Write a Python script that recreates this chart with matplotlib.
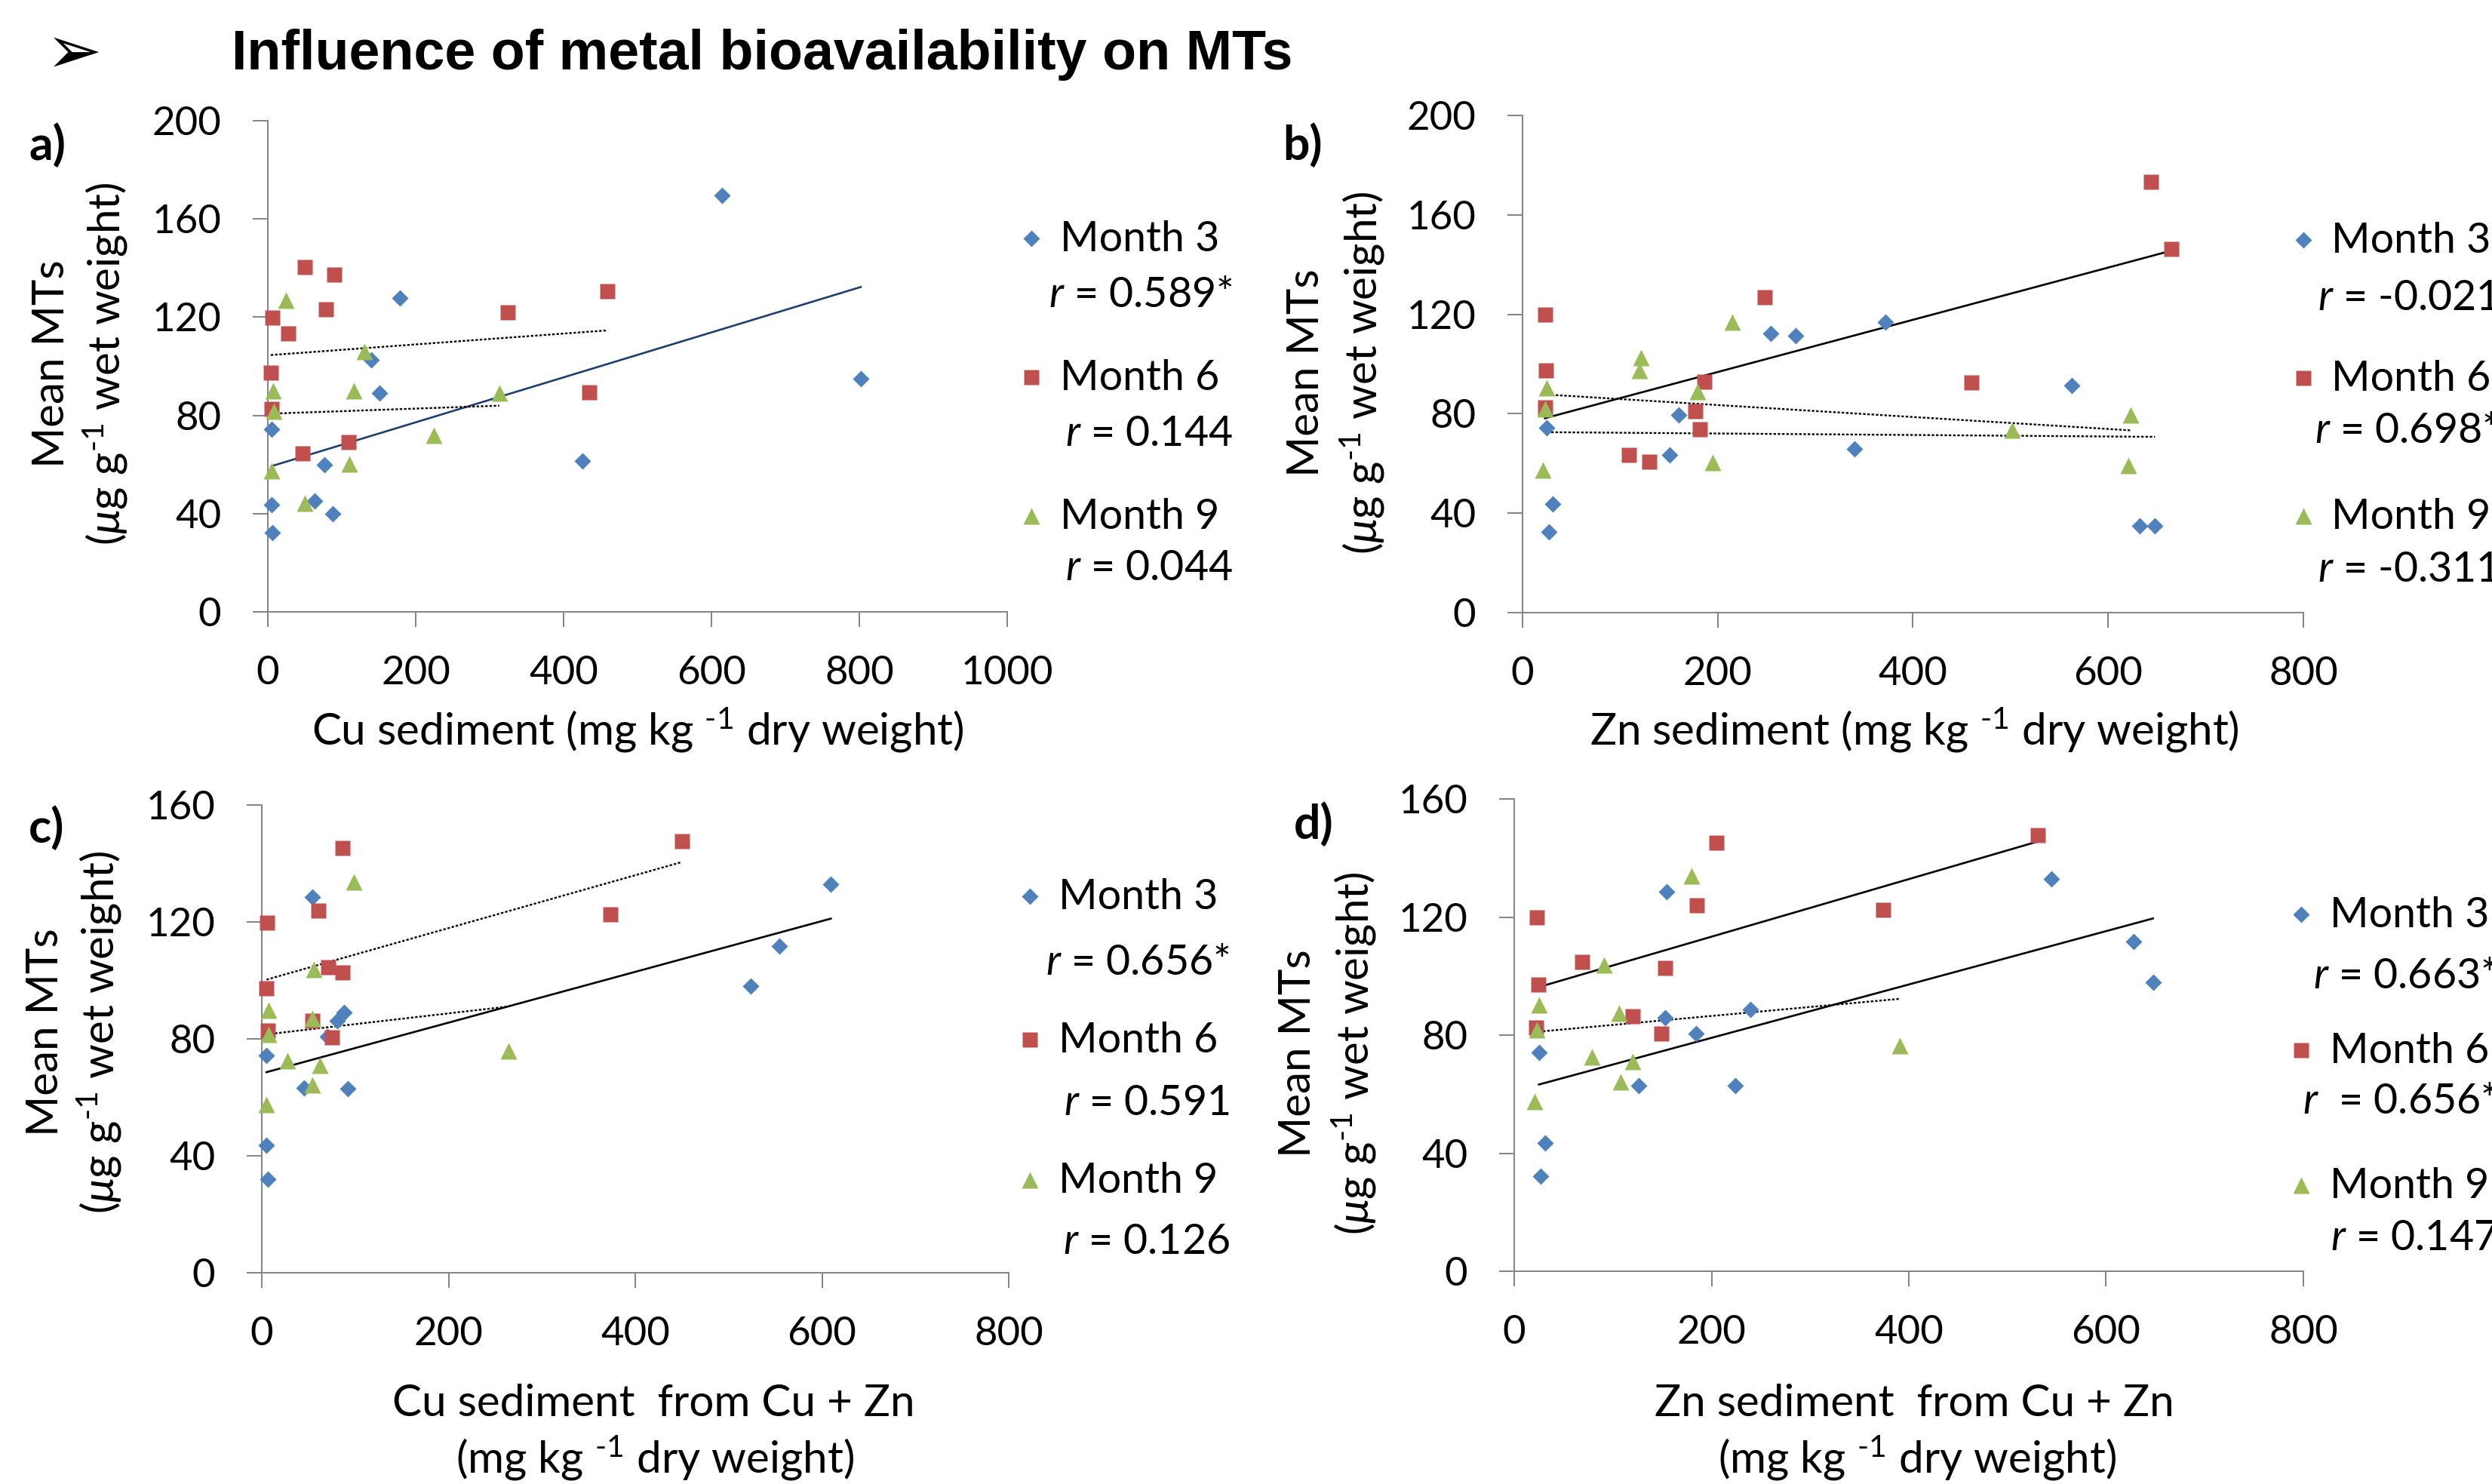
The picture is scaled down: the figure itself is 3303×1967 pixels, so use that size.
import matplotlib
matplotlib.use("Agg")
import matplotlib.pyplot as plt
import numpy as np
from matplotlib.lines import Line2D

# ---- data ------------------------------------------------------------------------
months = ["Month 3", "Month 6", "Month 9"]

# a) Cu sediment vs mean MTs
a_x3 = [614, 179, 140, 151, 802, 5, 77, 425, 5, 63, 88, 6]
a_y3 = [169.5, 127.8, 102.5, 89, 95, 74.2, 60, 61.4, 43.5, 45.2, 40, 32.3]
a_x6 = [50, 90, 79, 6, 28, 459, 324, 4, 435, 5, 109, 47]
a_y6 = [140.3, 137.3, 123.3, 119.9, 113.4, 130.6, 122, 97.5, 89.5, 82.6, 69.2, 64.4]
a_x9 = [24, 131, 7, 116, 313, 8.5, 224, 110.6, 5, 50]
a_y9 = [126.8, 106, 90, 90, 89, 81.6, 72, 60.2, 57.3, 44.2]
a_r = ["0.589*", "0.144", "0.044"]

# b) Zn sediment vs mean MTs
b_x3 = [372, 254, 280, 563, 25, 160, 151, 340, 31, 27, 632, 648]
b_y3 = [116.8, 112.3, 111.3, 91.5, 74.4, 79.6, 63.5, 66, 43.6, 32.4, 35, 35]
b_x6 = [644, 665, 248, 23, 24, 186, 460, 23, 177, 182, 109, 130]
b_y6 = [173.2, 146.4, 127, 120, 97.3, 93, 92.7, 82.7, 80.9, 73.7, 63.4, 60.6]
b_x9 = [215, 121, 120, 25, 179, 23, 623, 502, 21, 195, 621]
b_y9 = [116.9, 102.5, 97.3, 90.4, 88.8, 82, 79.6, 73.3, 57.5, 60.3, 59.2]
b_r = ["-0.021", "0.698*", "-0.311"]

# c) Cu sediment from Cu + Zn
c_x3 = [609.5, 554, 524, 54, 88, 80.7, 70, 5, 45, 92, 5, 6.7]
c_y3 = [132.8, 111.8, 98.1, 128.6, 89, 86.3, 80.7, 74.2, 63.2, 63, 43.7, 32.1]
c_x6 = [450, 86.6, 60.5, 373, 6, 71, 86.6, 5, 54.5, 6.7, 75.4]
c_y6 = [147.7, 145.2, 123.9, 122.6, 119.8, 104.4, 102.8, 97.2, 86.3, 82.8, 80.5]
c_x9 = [98.6, 56, 7.5, 54.5, 7.5, 264, 27.6, 62, 54, 5]
c_y9 = [133.7, 103.8, 89.9, 86.9, 81.6, 76, 72.5, 70.9, 64.2, 57.6]
c_r = ["0.656*", "0.591", "0.126"]

# d) Zn sediment from Cu + Zn
d_x3 = [544.6, 627.7, 647.5, 154.5, 239.6, 153, 184, 25, 126, 224.4, 31.7, 27]
d_y3 = [132.9, 111.7, 98, 128.5, 88.6, 85.9, 80.4, 74.1, 63, 62.8, 43.5, 32.3]
d_x6 = [531, 205, 185, 374.3, 23, 68.6, 153, 24.4, 120, 22.4, 149]
d_y6 = [147.7, 145.1, 123.9, 122.5, 119.8, 104.7, 102.8, 97.2, 86.4, 82.6, 80.5]
d_x9 = [180, 91, 25, 106, 23, 390.8, 78.5, 120, 107.5, 20.5]
d_y9 = [134, 103.8, 90.1, 87.5, 81.7, 76.3, 72.5, 71.1, 64.2, 57.6]
d_r = ["0.663*", " 0.656*", "0.147"]

UNIT = r"(mg kg $^{\text{-}1}$ dry weight)"
YLAB2 = r"($\mu$g g$^{\text{-}1}$ wet weight)"

# ---- style -------------------------------------------------------------------------
W, H = 3303, 1967
plt.rcParams["font.family"] = ["Lato", "DejaVu Sans"]
plt.rcParams["mathtext.fontset"] = "custom"
plt.rcParams["mathtext.rm"] = "Lato"
plt.rcParams["mathtext.it"] = "Lato:italic"
plt.rcParams["mathtext.bf"] = "Lato:bold"

COLORS = ["#4F81BD", "#C0504D", "#9BBB59"]
MARKERS = ["D", "s", "^"]
MSIZE = [10.8, 14.6, 15.4]
GREY = "#868686"


def fx(px):
    return px / W


def fy(py):
    return 1 - py / H


def draw_panel(fig, box, series, r_vals, xmax, ymax, solid_color):
    """box = (left, top, right, bottom) in pixels of the plot area."""
    l, t, r, b = box
    ax = fig.add_axes([fx(l), fy(b), (r - l) / W, (b - t) / H])
    for (xs, ys), rv, c, m, ms in zip(series, r_vals, COLORS, MARKERS, MSIZE):
        xs, ys = np.asarray(xs, float), np.asarray(ys, float)
        k, q = np.polyfit(xs, ys, 1)          # linear trend, as in the spreadsheet
        xx = np.array([xs.min(), xs.max()])
        if "*" in rv:                          # significant -> solid trend line
            ax.plot(xx, k * xx + q, color=solid_color, lw=1.9, zorder=3)
        else:
            ax.plot(xx, k * xx + q, color="black", lw=1.7, ls=(0, (1.4, 1.0)), zorder=3)
        ax.plot(xs, ys, ls="none", marker=m, ms=ms, color=c, mec="none", clip_on=False, zorder=4)
    ax.set_xlim(0, xmax)
    ax.set_ylim(0, ymax)
    ax.set_xticks(np.arange(0, xmax + 1, 200))
    ax.set_yticks(np.arange(0, ymax + 1, 40))
    for s in ("top", "right"):
        ax.spines[s].set_visible(False)
    for s in ("left", "bottom"):
        ax.spines[s].set_color(GREY)
        ax.spines[s].set_linewidth(1.44)
    ax.tick_params(direction="out", length=14.4, width=1.44, color=GREY, labelsize=38)
    ax.tick_params(axis="x", pad=27)
    ax.tick_params(axis="y", pad=30)
    return ax


def draw_key(fig, r_vals, mark_x, text_x, r_right, month_base, r_base):
    """Hand-placed key: marker + month name, then the r value right-aligned below it."""
    for i, (rv, c, m, ms) in enumerate(zip(r_vals, COLORS, MARKERS, MSIZE)):
        fig.add_artist(Line2D([fx(mark_x)], [fy(month_base[i] - 17)], transform=fig.transFigure,
                              ls="none", marker=m, ms=ms, color=c, mec="none"))
        fig.text(fx(text_x), fy(month_base[i]), months[i], fontsize=40, va="baseline", ha="left")
        gap = "  " if rv.startswith(" ") else " "
        fig.text(fx(r_right), fy(r_base[i]), "$r$" + gap + "= " + rv.lstrip(), fontsize=40,
                 va="baseline", ha="right")


def ylabels(fig, x1, x2, yc):
    fig.text(fx(x1), fy(yc), "Mean MTs", fontsize=42, rotation=90, rotation_mode="anchor",
             ha="center", va="baseline")
    fig.text(fx(x2), fy(yc), YLAB2, fontsize=42, rotation=90, rotation_mode="anchor",
             ha="center", va="baseline")


fig = plt.figure(figsize=(W / 100, H / 100), dpi=100)

# title
fig.text(fx(60), fy(97), "\u27a2", fontsize=64, family="DejaVu Sans", va="baseline", ha="left")
fig.text(fx(307), fy(92), "Influence of metal bioavailability on MTs", fontsize=53,
         family="Liberation Sans", weight="bold", va="baseline", ha="left")

# a)
draw_panel(fig, (355, 160, 1335, 811), [(a_x3, a_y3), (a_x6, a_y6), (a_x9, a_y9)], a_r,
           1000, 200, "#1F3F6F")
draw_key(fig, a_r, 1367, 1405, 1634, [333, 517, 701], [407, 591, 769])
ylabels(fig, 85, 160, 482)
fig.text(fx(38), fy(212), "a)", fontsize=45, weight="bold", va="baseline")
fig.text(fx(845), fy(987), "Cu sediment " + UNIT, fontsize=42, ha="center", va="baseline")

# b)
draw_panel(fig, (2018, 153, 3053, 812), [(b_x3, b_y3), (b_x6, b_y6), (b_x9, b_y9)], b_r,
           800, 200, "black")
draw_key(fig, b_r, 3053, 3090, 3312, [335, 518, 701], [411, 587, 771])
ylabels(fig, 1748, 1825, 494)
fig.text(fx(1700), fy(212), "b)", fontsize=45, weight="bold", va="baseline")
fig.text(fx(2537), fy(987), "Zn sediment " + UNIT, fontsize=42, ha="center", va="baseline")

# c)
draw_panel(fig, (347, 1067, 1337, 1687), [(c_x3, c_y3), (c_x6, c_y6), (c_x9, c_y9)], c_r,
           800, 160, "black")
draw_key(fig, c_r, 1365, 1403, 1630, [1205, 1395, 1581], [1292, 1478, 1662])
ylabels(fig, 77, 152, 1368)
fig.text(fx(38), fy(1117), "c)", fontsize=45, weight="bold", va="baseline")
fig.text(fx(866), fy(1877), "Cu sediment  from Cu + Zn", fontsize=42, ha="center", va="baseline")
fig.text(fx(868), fy(1952), UNIT, fontsize=42, ha="center", va="baseline")

# d)
draw_panel(fig, (2007, 1059, 3053, 1685), [(d_x3, d_y3), (d_x6, d_y6), (d_x9, d_y9)], d_r,
           800, 160, "black")
draw_key(fig, d_r, 3050, 3088, 3310, [1229, 1409, 1588], [1310, 1476, 1657])
ylabels(fig, 1737, 1814, 1396)
fig.text(fx(1715), fy(1112), "d)", fontsize=45, weight="bold", va="baseline")
fig.text(fx(2537), fy(1877), "Zn sediment  from Cu + Zn", fontsize=42, ha="center", va="baseline")
fig.text(fx(2541), fy(1952), UNIT, fontsize=42, ha="center", va="baseline")

fig.savefig("out.png", dpi=100)
